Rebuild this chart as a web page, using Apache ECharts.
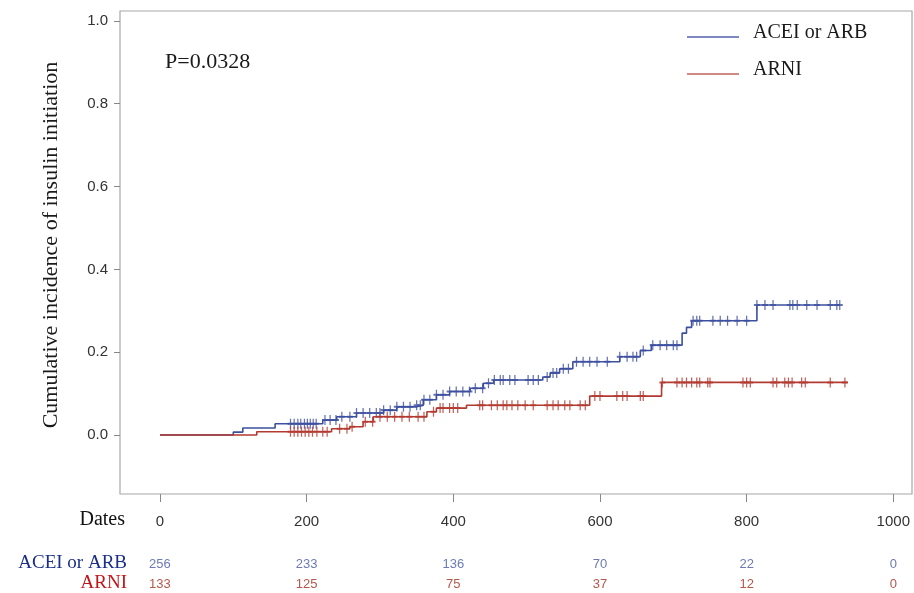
<!DOCTYPE html>
<html>
<head>
<meta charset="utf-8">
<script src="https://cdn.jsdelivr.net/npm/echarts@6/dist/echarts.min.js"></script>
<style>html,body{margin:0;padding:0;background:#fff}#c{width:914px;height:593px}</style>
</head>
<body>
<div id="c"></div>
<script>
const xTicks = [0, 200, 400, 600, 800, 1000];
const yTicks = [0, 0.2, 0.4, 0.6, 0.8, 1.0];
const riskACEI = [256, 233, 136, 70, 22, 0];
const riskARNI = [133, 125, 75, 37, 12, 0];

const aceiTimes = [0,100,113,157,222,241,268,305,323,350,359,377,395,423,441,455,522,532,545,563,627,655,670,712,718,725,814,927];
const aceiInc   = [0,0.007,0.017,0.027,0.036,0.044,0.053,0.06,0.068,0.072,0.085,0.097,0.105,0.113,0.125,0.133,0.14,0.15,0.16,0.177,0.189,0.204,0.217,0.246,0.26,0.276,0.314,0.314];
const aceiCensor = [178,183,188,192,197,201,205,209,213,225,232,240,248,259,268,277,286,295,300,305,314,323,332,341,350,355,360,368,377,386,395,404,413,422,430,440,448,456,464,468,477,484,502,509,516,528,536,541,550,557,568,577,586,596,610,627,637,645,650,659,672,682,691,700,705,727,732,736,754,764,774,787,800,814,825,836,859,863,869,882,896,914,923,927];

const arniTimes = [0,132,234,259,277,291,364,377,418,586,684,938];
const arniInc   = [0,0.008,0.015,0.02,0.032,0.044,0.056,0.065,0.072,0.094,0.127,0.127];
const arniCensor = [178,183,188,193,198,203,208,214,222,228,245,255,262,280,290,300,310,320,330,340,352,360,373,382,386,395,400,406,436,440,452,460,468,473,480,488,498,509,528,536,543,552,559,573,580,593,600,623,631,637,655,659,685,705,712,718,725,732,736,747,750,795,800,805,836,841,852,857,862,875,880,914,934];

const pText = 'P=0.0328';
const seriesNames = ['ACEI or ARB', 'ARNI'];

const BLUE = '#3d4f9f', RED = '#b23a30';
const X_MIN = -54.5, X_MAX = 1025.5, Y_MIN = -0.1425, Y_MAX = 1.024;

function valAt(times, inc, t) {
  let v = 0;
  for (let i = 0; i < times.length; i++) if (times[i] <= t) v = inc[i];
  return v;
}
const plus = 'path://M0,5L10,5M5,0L5,10';
const SANS = 'Liberation Sans, Arial, sans-serif';
const SERIF = 'Liberation Serif, Times New Roman, serif';

function riskAxis(arr, color, offset) {
  return {
    type: 'value', position: 'bottom', offset: offset, min: X_MIN, max: X_MAX,
    axisLine: { show: false, onZero: false }, axisTick: { show: false }, splitLine: { show: false },
    axisLabel: {
      customValues: xTicks, margin: 6, color: color, fontFamily: SANS, fontSize: 13,
      formatter: v => { const i = xTicks.indexOf(v); return i >= 0 ? String(arr[i]) : ''; }
    }
  };
}

const chart = echarts.init(document.getElementById('c'), null, { renderer: 'canvas' });
chart.setOption({
  animation: false,
  backgroundColor: '#fff',
  grid: { left: 120, right: 2, top: 11, bottom: 99, show: true, borderColor: '#a8a8a8', borderWidth: 1.2 },
  xAxis: [
    {
      type: 'value', min: X_MIN, max: X_MAX, position: 'bottom',
      axisLine: { show: false, onZero: false }, splitLine: { show: false },
      axisTick: { show: true, customValues: xTicks, length: 8, lineStyle: { color: '#888' } },
      axisLabel: { customValues: xTicks, margin: 20, color: '#333', fontFamily: SANS, fontSize: 15,
        formatter: v => String(v) }
    },
    riskAxis(riskACEI, '#6d7ab5', 58),
    riskAxis(riskARNI, '#b5574c', 78)
  ],
  yAxis: {
    type: 'value', min: Y_MIN, max: Y_MAX, position: 'left',
    axisLine: { show: false, onZero: false }, splitLine: { show: false },
    axisTick: { show: true, customValues: yTicks, length: 6, lineStyle: { color: '#888' } },
    axisLabel: { customValues: yTicks, margin: 12, color: '#333', fontFamily: SANS, fontSize: 15,
      formatter: v => v.toFixed(1) }
  },
  series: [
    { name: seriesNames[0], type: 'line', step: 'end', symbol: 'none',
      lineStyle: { color: BLUE, width: 1.6 },
      data: aceiTimes.map((t, i) => [t, aceiInc[i]]) },
    { name: seriesNames[1], type: 'line', step: 'end', symbol: 'none',
      lineStyle: { color: RED, width: 1.6 },
      data: arniTimes.map((t, i) => [t, arniInc[i]]) },
    { type: 'scatter', symbol: plus, symbolSize: [6, 10],
      itemStyle: { color: 'none', borderColor: BLUE, borderWidth: 1.6 },
      data: aceiCensor.map(t => [t, valAt(aceiTimes, aceiInc, t)]) },
    { type: 'scatter', symbol: plus, symbolSize: [6, 10],
      itemStyle: { color: 'none', borderColor: RED, borderWidth: 1.6 },
      data: arniCensor.map(t => [t, valAt(arniTimes, arniInc, t)]) }
  ],
  graphic: [
    { type: 'text', x: 51, y: 245, rotation: Math.PI / 2,
      style: { text: 'Cumulative incidence of insulin initiation', font: '22px ' + SERIF, fill: '#1a1a1a', align: 'center', verticalAlign: 'middle' } },
    { type: 'text', x: 165, y: 62,
      style: { text: pText, font: '22px ' + SERIF, fill: '#1a1a1a', align: 'left', verticalAlign: 'middle' } },
    { type: 'line', shape: { x1: 687, y1: 37, x2: 739, y2: 37 }, style: { stroke: '#7e88c2', lineWidth: 2 } },
    { type: 'line', shape: { x1: 687, y1: 74, x2: 739, y2: 74 }, style: { stroke: '#d08a82', lineWidth: 2 } },
    { type: 'text', x: 753, y: 33,
      style: { text: seriesNames[0], font: '20px ' + SERIF, fill: '#1a1a1a', align: 'left', verticalAlign: 'middle' } },
    { type: 'text', x: 753, y: 70,
      style: { text: seriesNames[1], font: '20px ' + SERIF, fill: '#1a1a1a', align: 'left', verticalAlign: 'middle' } },
    { type: 'text', x: 125, y: 520,
      style: { text: 'Dates', font: '20px ' + SERIF, fill: '#111', align: 'right', verticalAlign: 'middle' } },
    { type: 'text', x: 127, y: 563,
      style: { text: seriesNames[0], font: '19px ' + SERIF, fill: '#1b2f8a', align: 'right', verticalAlign: 'middle' } },
    { type: 'text', x: 127, y: 583,
      style: { text: seriesNames[1], font: '19px ' + SERIF, fill: '#c0161a', align: 'right', verticalAlign: 'middle' } }
  ]
});
</script>
</body>
</html>
